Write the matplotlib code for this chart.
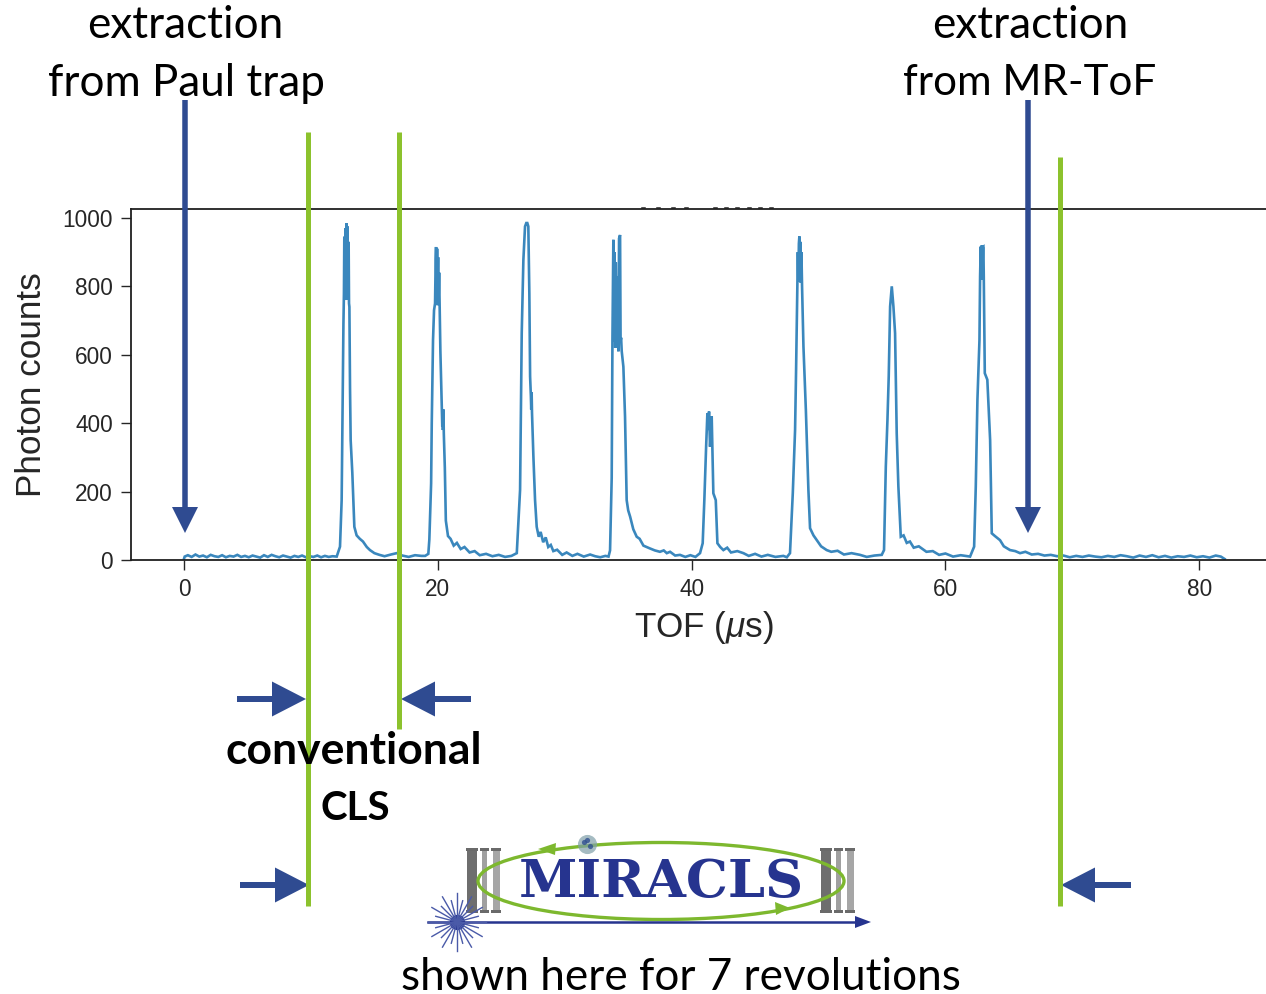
import matplotlib
matplotlib.use('Agg')
import matplotlib.pyplot as plt
from matplotlib.patches import Ellipse, FancyArrow, Rectangle
import numpy as np

# trace, piece by piece (TOF in us, photon counts)
tof_base0 = [0.0, 0.05, 0.3, 0.6, 0.9, 1.2, 1.5, 1.8, 2.1, 2.4, 2.7, 3.0, 3.3, 3.6, 3.9, 4.2, 4.5, 4.8, 5.1, 5.4,
             5.7, 6.0, 6.3, 6.6, 6.9, 7.2, 7.5, 7.8, 8.1, 8.4, 8.7, 9.0, 9.3, 9.6, 9.9, 10.2, 10.5, 10.8, 11.1, 11.4, 11.7]
counts_base0 = [4, 10, 14, 9, 16, 10, 13, 8, 15, 11, 9, 14, 8, 12, 10, 15, 9, 12, 8, 13,
                10, 7, 14, 9, 15, 11, 8, 13, 10, 7, 12, 9, 13, 8, 11, 9, 13, 8, 12, 9, 11]

tof_p1 = [12.03, 12.29, 12.42, 12.48, 12.56, 12.60, 12.63, 12.68, 12.72, 12.77, 12.80, 12.85, 12.88, 12.93, 12.97,
          13.0, 13.03, 13.08, 13.13, 13.26, 13.42, 13.6, 13.85, 14.1, 14.4, 14.65, 15.0, 15.4, 15.8, 16.3, 16.76, 17.2, 17.7, 18.2, 18.7]
counts_p1 = [10, 39, 175, 410, 690, 780, 945, 760, 970, 760, 985, 770, 975, 760, 930,
             750, 740, 500, 350, 255, 97, 72, 62, 54, 38, 29, 20, 15, 11, 16, 20, 13, 9, 14, 12]

tof_p2 = [19.0, 19.25, 19.33, 19.39, 19.47, 19.52, 19.62, 19.7, 19.78, 19.83, 19.86, 19.9, 19.94, 19.98, 20.02, 20.05,
          20.1, 20.14, 20.2, 20.3, 20.35, 20.38, 20.4, 20.44, 20.47, 20.55, 20.63, 20.8, 21.0, 21.25, 21.5, 21.8, 22.1, 22.5, 22.9, 23.3, 23.8, 24.3, 24.8, 25.3, 25.8]
counts_p2 = [12, 18, 60, 127, 224, 400, 643, 730, 750, 880, 915, 745, 910, 760, 885, 745,
             840, 740, 610, 470, 390, 440, 380, 440, 370, 270, 115, 70, 62, 42, 50, 32, 38, 22, 26, 14, 18, 11, 15, 9, 12]

tof_p3 = [26.22, 26.48, 26.61, 26.74, 26.87, 26.97, 27.05, 27.13, 27.21, 27.27, 27.33, 27.36, 27.39, 27.42, 27.53, 27.66, 27.79, 27.95,
          28.1, 28.3, 28.5, 28.7, 28.9, 29.1, 29.4, 29.8, 30.15, 30.6, 31.0, 31.5, 32.0, 32.4, 32.8, 33.2]
counts_p3 = [20, 205, 663, 877, 975, 985, 985, 975, 780, 536, 480, 440, 490, 430, 302, 175, 97, 68,
             82, 52, 66, 38, 44, 26, 30, 15, 22, 12, 18, 10, 16, 11, 8, 12]

tof_p4 = [33.45, 33.57, 33.70, 33.76, 33.83, 33.88, 33.92, 33.98, 34.02, 34.1, 34.16, 34.23, 34.28, 34.36, 34.40, 34.44, 34.49, 34.62,
          34.75, 34.88, 35.0, 35.15, 35.4, 35.67, 35.9, 36.2, 36.7, 37.1, 37.5]
counts_p4 = [10, 28, 240, 650, 936, 640, 900, 620, 870, 630, 830, 610, 940, 950, 640, 650, 610, 565,
             420, 175, 145, 127, 90, 68, 62, 42, 34, 28, 24]

tof_p5 = [37.8, 38.04, 38.3, 38.7, 39.08, 39.5, 39.9, 40.3, 40.66, 40.87, 41.0, 41.14, 41.24, 41.30, 41.37, 41.45, 41.58, 41.71, 41.9,
          42.03, 42.25, 42.5, 42.8, 43.1, 43.6, 44.08, 44.5, 45.0, 45.5, 46.0, 46.6, 47.23, 47.5]
counts_p5 = [28, 20, 24, 13, 15, 9, 14, 9, 20, 49, 175, 331, 429, 380, 434, 331, 420, 195, 175,
             49, 38, 29, 36, 22, 26, 20, 12, 18, 10, 15, 9, 12, 8]

tof_p6 = [47.75, 47.97, 48.15, 48.23, 48.33, 48.37, 48.41, 48.45, 48.49, 48.53, 48.57, 48.61, 48.65, 48.70, 48.81, 49.0, 49.2, 49.33,
          49.6, 49.86, 50.2, 50.64, 51.0, 51.5, 52.0, 52.6, 53.27, 53.8, 54.4, 54.98]
counts_p6 = [20, 195, 380, 556, 800, 900, 815, 925, 946, 820, 930, 810, 900, 800, 624, 439, 205, 93,
             72, 58, 40, 29, 24, 27, 16, 20, 15, 9, 13, 15]

tof_p7 = [55.16, 55.3, 55.43, 55.53, 55.64, 55.77, 55.9, 56.03, 56.16, 56.29, 56.48, 56.7, 56.95, 57.2, 57.5, 57.9, 58.5, 59.0, 59.5, 60.0, 60.6, 61.2, 61.94]
counts_p7 = [29, 273, 410, 536, 741, 800, 741, 663, 370, 215, 68, 72, 50, 54, 36, 40, 24, 26, 15, 19, 10, 14, 10]

tof_p8 = [62.26, 62.39, 62.52, 62.68, 62.73, 62.78, 62.83, 62.87, 62.91, 62.95, 62.99, 63.02, 63.1, 63.3, 63.52, 63.65, 63.9, 64.3, 64.6, 65.09, 65.5, 65.88]
counts_p8 = [39, 215, 468, 643, 829, 916, 820, 920, 825, 915, 916, 829, 546, 527, 351, 78, 70, 58, 40, 29, 26, 20]

tof_base1 = [66.3, 66.8, 67.3, 67.8, 68.3, 68.8, 69.3, 69.8, 70.3, 70.8, 71.3, 71.8, 72.3, 72.8, 73.3, 73.8, 74.3, 74.8, 75.3, 75.8,
             76.3, 76.8, 77.3, 77.8, 78.3, 78.8, 79.3, 79.8, 80.3, 80.8, 81.3, 81.7, 82.0]
counts_base1 = [24, 16, 18, 13, 15, 11, 13, 8, 12, 9, 13, 10, 8, 12, 9, 14, 11, 7, 13, 9,
                14, 8, 12, 7, 11, 9, 13, 8, 11, 7, 13, 10, 3]

tof = tof_base0 + tof_p1 + tof_p2 + tof_p3 + tof_p4 + tof_p5 + tof_p6 + tof_p7 + tof_p8 + tof_base1
counts = counts_base0 + counts_p1 + counts_p2 + counts_p3 + counts_p4 + counts_p5 + counts_p6 + counts_p7 + counts_p8 + counts_base1

x_ticks = [0, 20, 40, 60, 80]
y_ticks = [0, 200, 400, 600, 800, 1000]

W, H = 1266, 994
NAVY = '#2F4B91'
GREEN = '#8CC22D'
LOGO_BLUE = '#26348F'
TEXT_FONT = 'Lato'

fig = plt.figure(figsize=(W / 100, H / 100), dpi=100)
ax = fig.add_axes([131 / W, 1 - 560 / H, (W - 131) / W, (560 - 209) / H])
ax.plot(tof, counts, color='#1f77b4', lw=1.9, alpha=0.88, solid_joinstyle='miter')
ax.set_xlim(-4.18, 85.26)
ax.set_ylim(0, 1026)
ax.set_xticks(x_ticks)
ax.set_yticks(y_ticks)
ax.tick_params(labelsize=16.3, length=7, width=1.0, colors='#262626', pad=6)
for s in ax.spines.values():
    s.set_linewidth(1.3)
    s.set_color('#202020')
ax.spines['right'].set_visible(False)
plt.setp(ax.get_xticklabels() + ax.get_yticklabels(), family='Liberation Sans')
plt.rcParams['mathtext.fontset'] = 'custom'
plt.rcParams['mathtext.it'] = 'Liberation Sans:italic'
plt.rcParams['mathtext.rm'] = 'Liberation Sans'
fig.text(704 / W, 1 - 628 / H, r'TOF ($\mu$s)', family='Liberation Sans', fontsize=25.3, color='#262626',
         ha='center', va='center')
fig.text(31.5 / W, 1 - 385 / H, 'Photon counts', family='Liberation Sans', fontsize=25.3, color='#262626',
         ha='center', va='center', rotation=90)

# everything drawn over the plot goes on a pixel-sized layer
over = fig.add_axes([0, 0, 1, 1], facecolor='none')
over.set_xlim(0, W)
over.set_ylim(H, 0)
over.axis('off')

# what is left of the cropped title
for px in [643, 658, 673, 686, 715, 726, 737, 749, 760, 771]:
    over.plot([px - 1.5, px + 1.5], [207.8, 207.8], color='#202020', lw=1.1)

# green gates
over.plot([308, 308], [132, 906], color=GREEN, lw=3.6, solid_capstyle='butt')
over.plot([399, 399], [132, 729], color=GREEN, lw=3.6, solid_capstyle='butt')
over.plot([1060, 1060], [157, 906], color=GREEN, lw=3.6, solid_capstyle='butt')

# arrows
for x0, y0, dx, dy in [(185, 100, 0, 433), (1028, 100, 0, 433)]:
    over.add_patch(FancyArrow(x0, y0, dx, dy, width=5.5, head_width=26, head_length=26,
                              length_includes_head=True, color=NAVY, lw=0))
for x0, y0, dx, dy in [(237, 699, 69, 0), (471, 699, -70, 0), (240, 885, 69, 0), (1131, 885, -70, 0)]:
    over.add_patch(FancyArrow(x0, y0, dx, dy, width=6, head_width=35, head_length=34,
                              length_includes_head=True, color=NAVY, lw=0))

# labels
for x0, y0, s, fs in [(185, 26, 'extraction', 31.7), (186, 83, 'from Paul trap', 31.7), (1030, 26, 'extraction', 31.7),
                      (1030, 83, 'from MR-ToF', 30.3), (681, 977, 'shown here for 7 revolutions', 31.7)]:
    over.text(x0, y0, s, family=TEXT_FONT, fontsize=fs, color='black', ha='center', va='center')
over.text(354, 751, 'conventional', family=TEXT_FONT, fontsize=32, fontweight='bold', color='black',
          ha='center', va='center')
over.text(355, 809, 'CLS', family=TEXT_FONT, fontsize=29, fontweight='bold', color='black',
          ha='center', va='center')

# logo: pillars
for x_left in [467, 821]:
    for off, w, shade in [(0, 10, '#6e6e6e'), (15, 5, '#a0a0a0'), (26, 7, '#a6a6a6')]:
        over.add_patch(Rectangle((x_left + off, 850), w, 62, color=shade, lw=0))
    for off, w in [(-1, 12), (13, 9), (24, 10)]:
        over.add_patch(Rectangle((x_left + off, 848), w, 3, color='#6a6a6a', lw=0))
        over.add_patch(Rectangle((x_left + off, 910), w, 3, color='#6a6a6a', lw=0))

# logo: ring
over.add_patch(Ellipse((661, 881), 366, 77, fill=False, edgecolor='#7DB82E', lw=2.4))
over.fill([538, 556, 555], [849, 843, 855], color='#7DB82E', lw=0)
over.fill([790, 775, 776], [908, 902, 915], color='#7DB82E', lw=0)
over.scatter([587], [844], s=190, color='#7f9fa8', alpha=0.7, lw=0)
over.scatter([584, 590, 587], [842, 846, 840], s=14, color='#2f4f8f', alpha=0.8, lw=0)

over.text(661, 883, 'MIRACLS', family='DejaVu Serif', fontweight='bold', fontsize=38, color=LOGO_BLUE,
          ha='center', va='center')

# logo: beam and laser burst
over.plot([428, 858], [922, 922], color=LOGO_BLUE, lw=1.8)
over.fill([871, 855, 855], [922, 916, 928], color=LOGO_BLUE, lw=0)
for i, ang in enumerate(np.deg2rad(np.arange(0, 360, 15))):
    r = 29 if i % 2 == 0 else 22
    over.plot([457, 457 + r * np.cos(ang)], [922, 922 + r * np.sin(ang)], color='#4a5aa8', lw=1.0)
over.scatter([457], [922], s=120, color=LOGO_BLUE, lw=0)

fig.savefig('out.png', dpi=100)
